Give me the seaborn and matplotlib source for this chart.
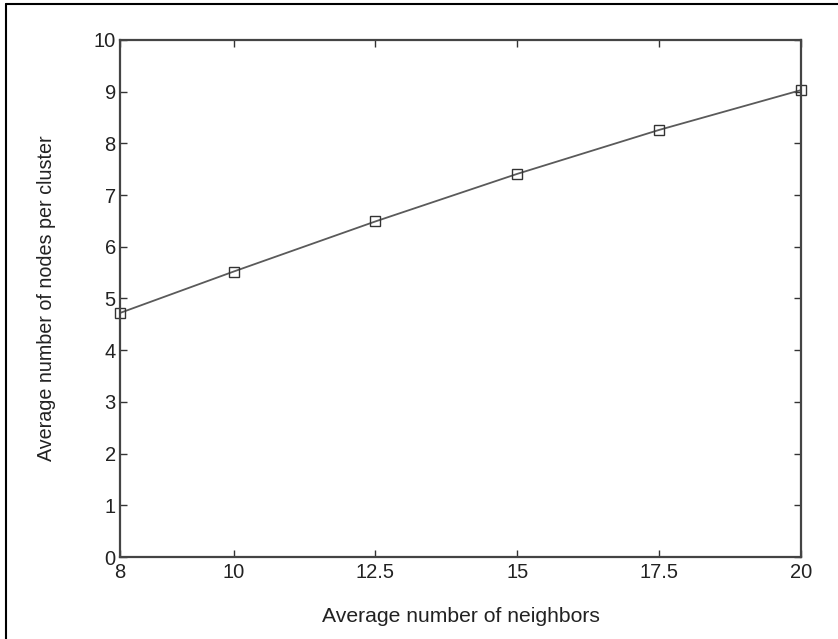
import matplotlib
matplotlib.use("Agg")
import matplotlib.pyplot as plt
import seaborn as sns
import pandas as pd
from matplotlib.lines import Line2D

# data
neighbors = [8, 10, 12.5, 15, 17.5, 20]
nodes_per_cluster = [4.72, 5.52, 6.49, 7.41, 8.26, 9.03]
x_ticks = [8, 10, 12.5, 15, 17.5, 20]
x_tick_labels = ["8", "10", "12.5", "15", "17.5", "20"]
y_ticks = list(range(0, 11))

sns.set_theme(style="white")
plt.rcParams["font.family"] = ["Liberation Sans", "DejaVu Sans"]

df = pd.DataFrame({"neighbors": neighbors, "nodes": nodes_per_cluster})

fig = plt.figure(figsize=(8.38, 6.39), dpi=100)
ax = fig.add_axes([0.1432, 0.1283, 0.8127, 0.8092])

sns.lineplot(data=df, x="neighbors", y="nodes", ax=ax, color="#5a5a5a",
             linewidth=1.3, marker="s", markersize=6.5, markerfacecolor="none",
             markeredgecolor="#333333", markeredgewidth=1.0, clip_on=False)

ax.set_xlim(8, 20)
ax.set_ylim(0, 10)
ax.set_xticks(x_ticks)
ax.set_xticklabels(x_tick_labels)
ax.set_yticks(y_ticks)
ax.tick_params(direction="in", length=5, width=1, colors="#333333",
               labelsize=14.5, labelcolor="#222222", top=True, right=True,
               bottom=True, left=True, pad=3)
ax.tick_params(axis="x", pad=4)
for s in ax.spines.values():
    s.set_color("#444444")
    s.set_linewidth(1.6)
    s.set_visible(True)

ax.set_xlabel("Average number of neighbors", fontsize=15.2, color="#222222", labelpad=18)
ax.set_ylabel("Average number of nodes per cluster", fontsize=14.2, color="#222222", labelpad=27)

# outer frame of the screenshot (left and top edges)
fig.add_artist(Line2D([0.0075, 0.0075], [0.0, 0.9937], transform=fig.transFigure,
                      color="black", linewidth=1.5))
fig.add_artist(Line2D([0.0075, 1.0], [0.9937, 0.9937], transform=fig.transFigure,
                      color="black", linewidth=1.5))

fig.savefig("out.png", dpi=100)
